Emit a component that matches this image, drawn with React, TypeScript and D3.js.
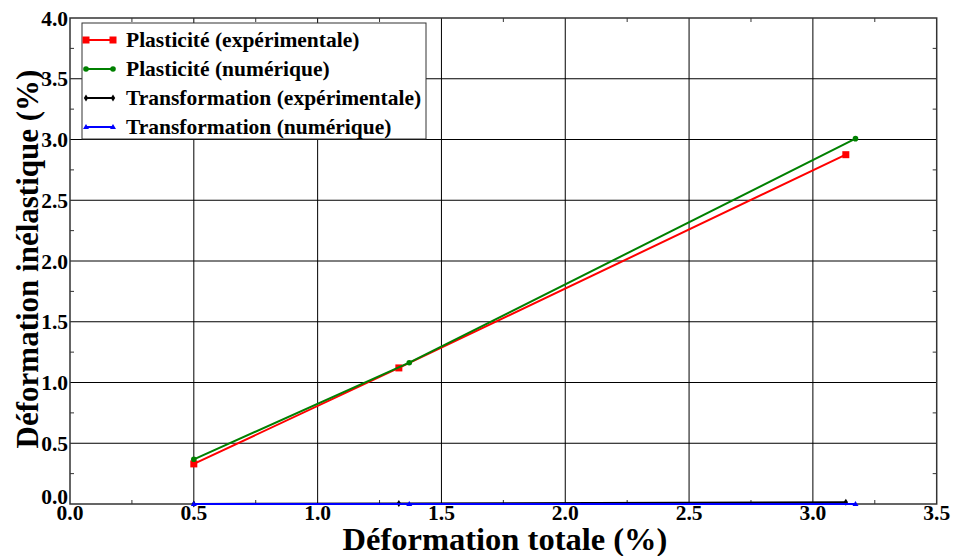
import React from "react";
import * as d3 from "d3";

const plastExpX = [0.5, 1.328, 3.133];
const plastExpY = [0.33, 1.12, 2.875];
const plastNumX = [0.5, 1.37, 3.172];
const plastNumY = [0.368, 1.163, 3.007];
const transExpX = [0.5, 1.328, 3.133];
const transExpY = [0.0, 0.004, 0.015];
const transNumX = [0.5, 1.37, 3.172];
const transNumY = [0.0, 0.0, 0.0];
const xTicks = [0, 0.5, 1, 1.5, 2, 2.5, 3, 3.5];
const yTicks = [0, 0.5, 1, 1.5, 2, 2.5, 3, 3.5, 4];
const legendLabels = [
  "Plasticité (expérimentale)",
  "Plasticité (numérique)",
  "Transformation (expérimentale)",
  "Transformation (numérique)",
];
const colors = ["#ff0000", "#008000", "#000000", "#0000ff"];

const W = 954, H = 556;
const L = 70, R = 936.7, T = 18, B = 504;
const FONT = "'Liberation Serif', 'Times New Roman', serif";

export default function App() {
  const x = d3.scaleLinear().domain([0, 3.5]).range([L, R]);
  const y = d3.scaleLinear().domain([0, 4]).range([B, T]);
  const line = d3.line<[number, number]>().x(d => x(d[0])).y(d => y(d[1]));
  const series = [
    { xs: plastExpX, ys: plastExpY, marker: "square" },
    { xs: plastNumX, ys: plastNumY, marker: "circle" },
    { xs: transExpX, ys: transExpY, marker: "diamond" },
    { xs: transNumX, ys: transNumY, marker: "triangle" },
  ];
  const marker = (type: string, cx: number, cy: number, c: string, k: string) => {
    if (type === "square") return <rect key={k} x={cx - 3.5} y={cy - 3.5} width={7} height={7} fill={c} />;
    if (type === "circle") return <circle key={k} cx={cx} cy={cy} r={2.8} fill={c} />;
    if (type === "diamond") return <path key={k} d={`M${cx},${cy - 3.5}L${cx + 2.2},${cy}L${cx},${cy + 3.5}L${cx - 2.2},${cy}Z`} fill={c} />;
    return <path key={k} d={`M${cx},${cy - 3}L${cx + 3},${cy + 2}L${cx - 3},${cy + 2}Z`} fill={c} />;
  };
  const minorX = d3.range(0.25, 3.5, 0.5);
  const minorY = d3.range(0.25, 4, 0.5);
  return (
    <svg width={W} height={H} style={{ position: "absolute", left: 0, top: 0 }} fontFamily={FONT}>
      <rect width={W} height={H} fill="#fff" />
      {xTicks.slice(1, -1).map(t => (
        <line key={"gx" + t} x1={x(t)} x2={x(t)} y1={T} y2={B} stroke="#000" strokeWidth={1} />
      ))}
      {yTicks.slice(1, -1).map(t => (
        <line key={"gy" + t} x1={L} x2={R} y1={y(t)} y2={y(t)} stroke="#000" strokeWidth={1} />
      ))}
      {minorX.map(t => (
        <g key={"mx" + t}>
          <line x1={x(t)} x2={x(t)} y1={B} y2={B - 4} stroke="#333" />
          <line x1={x(t)} x2={x(t)} y1={T} y2={T + 4} stroke="#333" />
        </g>
      ))}
      {minorY.map(t => (
        <g key={"my" + t}>
          <line x1={L} x2={L + 4} y1={y(t)} y2={y(t)} stroke="#333" />
          <line x1={R} x2={R - 4} y1={y(t)} y2={y(t)} stroke="#333" />
        </g>
      ))}
      <rect x={L} y={T} width={R - L} height={B - T} fill="none" stroke="#333" strokeWidth={1.5} />
      {series.map((s, i) => {
        const pts = s.xs.map((v, j) => [v, s.ys[j]] as [number, number]);
        return (
          <g key={"s" + i}>
            <path d={line(pts) || ""} fill="none" stroke={colors[i]} strokeWidth={2} />
            {pts.map((p, j) => marker(s.marker, x(p[0]), y(p[1]), colors[i], `m${i}-${j}`))}
          </g>
        );
      })}
      {xTicks.map(t => (
        <text key={"xl" + t} x={x(t)} y={519.5} textAnchor="middle" fontSize={21.5} fontWeight="bold">
          {t.toFixed(1)}
        </text>
      ))}
      {yTicks.map(t => (
        <text key={"yl" + t} x={68} y={t === 0 ? 504 : y(t) + 7.5} textAnchor="end" fontSize={21.5} fontWeight="bold">
          {t.toFixed(1)}
        </text>
      ))}
      <text x={505} y={549.5} textAnchor="middle" fontSize={32.5} fontWeight="bold">
        Déformation totale (%)
      </text>
      <text transform={`translate(38,259) rotate(-90)`} textAnchor="middle" fontSize={31} fontWeight="bold">
        Déformation inélastique (%)
      </text>
      <g>
        <rect x={82} y={23} width={344} height={116} fill="#fff" stroke="#333" strokeWidth={1} />
        {legendLabels.map((lab, i) => {
          const cy = 40 + i * 29;
          return (
            <g key={"lg" + i}>
              <line x1={86} x2={113} y1={cy} y2={cy} stroke={colors[i]} strokeWidth={2} />
              {marker(series[i].marker, 86, cy, colors[i], "la" + i)}
              {marker(series[i].marker, 113, cy, colors[i], "lb" + i)}
              <text x={126} y={cy + 7} fontSize={21.5} fontWeight="bold">{lab}</text>
            </g>
          );
        })}
      </g>
    </svg>
  );
}
